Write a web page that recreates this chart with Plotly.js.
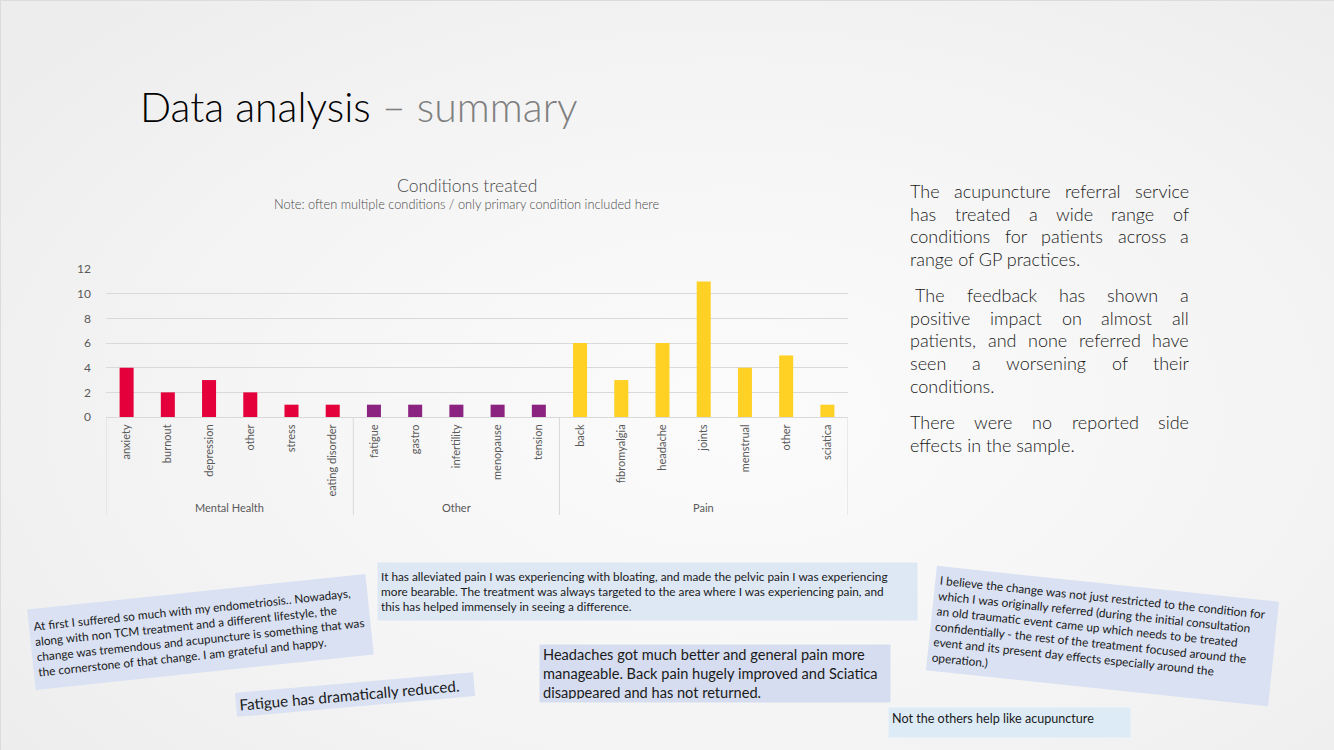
<!DOCTYPE html>
<html>
<head>
<meta charset="utf-8">
<script src="https://cdn.plot.ly/plotly-3.0.1.min.js"></script>
<style>
  html, body { margin: 0; padding: 0; }
  body {
    width: 1334px; height: 750px; overflow: hidden;
    background: radial-gradient(ellipse 70% 75% at 55% 55%, #fbfbfb 0%, #f6f6f6 45%, #ededed 100%);
    box-shadow: inset 1px 1px 0 #dcdcdc;
  }
  #chart { width: 1334px; height: 750px; }
</style>
</head>
<body>
<div id="chart"></div>
<script>
// ---- data ----
const groups = ["Mental Health", "Other", "Pain"];
const mentalLabels = ["anxiety", "burnout", "depression", "other", "stress", "eating disorder"];
const mentalValues = [4, 2, 3, 2, 1, 1];
const otherLabels = ["fatigue", "gastro", "infertility", "menopause", "tension"];
const otherValues = [1, 1, 1, 1, 1];
const painLabels = ["back", "fibromyalgia", "headache", "joints", "menstrual", "other", "sciatica"];
const painValues = [6, 3, 6, 11, 4, 5, 1];
const groupColors = ["#E4003B", "#8B2381", "#FFD124"];
const yTicks = [0, 2, 4, 6, 8, 10, 12];

const paragraphs = [
  ["The  acupuncture referral service", "has treated a wide range of", "conditions for patients across a", "range of GP practices."],
  ["The feedback has shown a", "positive impact on almost all", "patients, and none referred have", "seen a worsening of their", "conditions."],
  ["There were no reported side", "effects in the sample."]
];

const groupLabelSets = [mentalLabels, otherLabels, painLabels];
const groupValueSets = [mentalValues, otherValues, painValues];

// ---- build bar arrays ----
const labels = [], values = [], colors = [], xs = [];
const groupStarts = [];
groupLabelSets.forEach((lab, g) => {
  groupStarts.push(labels.length);
  lab.forEach((l, i) => {
    xs.push(labels.length);
    labels.push(l);
    values.push(groupValueSets[g][i]);
    colors.push(groupColors[g]);
  });
});
groupStarts.push(labels.length);

// ---- layout helpers (pixel -> paper) ----
const PL = 106, PR = 848, PT = 269, PB = 417;
const px = x => (x - PL) / (PR - PL);
const py = y => (PB - y) / (PB - PT);

const FONT = "Lato, 'Open Sans', sans-serif";
const GRAY = "#595959";

const trace = {
  type: "bar",
  x: xs,
  y: values,
  width: 0.34,
  marker: { color: colors },
  hoverinfo: "skip"
};

const shapes = [];
groupStarts.forEach(s => {
  shapes.push({
    type: "line", xref: "x", yref: "paper",
    x0: s - 0.5, x1: s - 0.5, y0: 0, y1: py(515),
    line: { color: "#d9d9d9", width: 1 }
  });
});

const annotations = [];
// group labels
groups.forEach((g, i) => {
  annotations.push({
    text: g, xref: "x", yref: "paper",
    x: (groupStarts[i] + groupStarts[i + 1] - 1) / 2, y: py(507),
    showarrow: false, xanchor: "center", yanchor: "middle",
    font: { family: FONT, size: 11, color: GRAY }
  });
});

function note(text, cx, cy, opts) {
  return Object.assign({
    text: text, xref: "paper", yref: "paper",
    x: px(cx), y: py(cy), showarrow: false,
    xanchor: "center", yanchor: "middle", align: "left"
  }, opts);
}

// slide title
annotations.push(note("Data analysis <span style='color:#7f7f7f'>– summary</span>", 138, 106,
  { xanchor: "left", font: { family: FONT, size: 41, color: "#000000", weight: 300 } }));
// chart title + note
annotations.push(note("Conditions treated", 467, 185,
  { font: { family: FONT, size: 17.5, color: "#4a4a4a", weight: 300 } }));
annotations.push(note("Note: often multiple conditions / only primary condition included here", 467, 204,
  { font: { family: FONT, size: 12.8, color: "#4a4a4a", weight: 300 } }));

// right-hand paragraphs, justified
const paraSize = 18, paraLeft = 909, paraRight = 1188, lineStep = 22.7;
const paraTops = [191, 295, 422];
const canvas = document.createElement("canvas");
const ctx = canvas.getContext("2d");
ctx.font = "300 " + paraSize + "px Lato";
const paraFont = { family: FONT, size: paraSize, color: "#1a1a1a", weight: 300 };
paragraphs.forEach((lines, p) => {
  lines.forEach((line, li) => {
    const y = paraTops[p] + li * lineStep;
    const indent = (p === 1 && li === 0) ? 5 : 0;
    const isLast = li === lines.length - 1;
    if (isLast) {
      annotations.push(note(line, paraLeft + indent, y, { xanchor: "left", font: paraFont, borderpad: 0 }));
      return;
    }
    const words = line.trim().split(/\s+/);
    const widths = words.map(w => ctx.measureText(w).width);
    const total = widths.reduce((a, b) => a + b, 0);
    const gap = (paraRight - paraLeft - indent - total) / (words.length - 1);
    let x = paraLeft + indent;
    words.forEach((w, wi) => {
      annotations.push(note(w, x, y, { xanchor: "left", font: paraFont, borderpad: 0 }));
      x += widths[wi] + gap;
    });
  });
});

// quote boxes
annotations.push(note("At first I suffered so much with my endometriosis.. Nowadays,<br>along with non TCM treatment and a different lifestyle, the<br>change was tremendous and acupuncture is something that was<br>the cornerstone of that change. I am grateful and happy.",
  200, 632, { textangle: -6, width: 331, height: 72, borderpad: 4, bgcolor: "#D9E1F2", valign: "middle",
  font: { family: FONT, size: 11.8, color: "#1a1a1a" } }));
annotations.push(note("Fatigue has dramatically reduced.",
  355, 694, { textangle: -5, width: 232, height: 17, borderpad: 3, bgcolor: "#D9E1F2", valign: "middle",
  font: { family: FONT, size: 15.2, color: "#1a1a1a" } }));
annotations.push(note("It has alleviated pain I was experiencing with bloating, and made the pelvic pain I was experiencing<br>more bearable. The treatment was always targeted to the area where I was experiencing pain, and<br>this has helped immensely in seeing a difference.",
  647.5, 591.5, { width: 533, height: 51, borderpad: 3, bgcolor: "#DEE8F5", valign: "middle",
  font: { family: FONT, size: 11.8, color: "#1a1a1a" } }));
annotations.push(note("Headaches got much better and general pain more<br>manageable. Back pain hugely improved and Sciatica<br>disappeared and has not returned.",
  715, 673.5, { width: 344, height: 51, borderpad: 3, bgcolor: "#D6DDF0", valign: "middle",
  font: { family: FONT, size: 14.6, color: "#1a1a1a" } }));
annotations.push(note("I believe the change was not just restricted to the condition for<br>which I was originally referred (during the initial consultation<br>an old traumatic event came up which needs to be treated<br>confidentially - the rest of the treatment focused around the<br>event and its present day effects especially around the<br>operation.)",
  1102, 636, { textangle: 6, width: 335, height: 96, borderpad: 4, bgcolor: "#D9E1F2", valign: "middle",
  font: { family: FONT, size: 11.9, color: "#1a1a1a" } }));
annotations.push(note("Not the others help like acupuncture",
  1009.5, 722.5, { width: 235, height: 23, borderpad: 3, bgcolor: "#DDEBF7", valign: "top",
  font: { family: FONT, size: 12.6, color: "#1a1a1a" } }));

const layout = {
  width: 1334, height: 750,
  margin: { l: PL, r: 1334 - PR, t: PT, b: 750 - PB, pad: 0 },
  paper_bgcolor: "rgba(0,0,0,0)",
  plot_bgcolor: "rgba(0,0,0,0)",
  showlegend: false,
  xaxis: {
    range: [-0.5, labels.length - 0.5],
    tickmode: "array", tickvals: xs, ticktext: labels,
    tickangle: -90, ticks: "", ticklabelstandoff: 2,
    tickfont: { family: FONT, size: 11, color: GRAY },
    showgrid: false, zeroline: false,
    showline: true, linecolor: "#d9d9d9", linewidth: 1,
    fixedrange: true
  },
  yaxis: {
    range: [0, 12.02],
    tickmode: "array", tickvals: yTicks,
    ticks: "", ticklabelstandoff: 14,
    tickfont: { family: FONT, size: 12, color: GRAY },
    showgrid: true, gridcolor: "#d9d9d9", gridwidth: 1,
    zeroline: false, showline: false,
    fixedrange: true
  },
  shapes: shapes,
  annotations: annotations
};

Plotly.newPlot("chart", [trace], layout, { displayModeBar: false, staticPlot: true });
</script>
</body>
</html>
